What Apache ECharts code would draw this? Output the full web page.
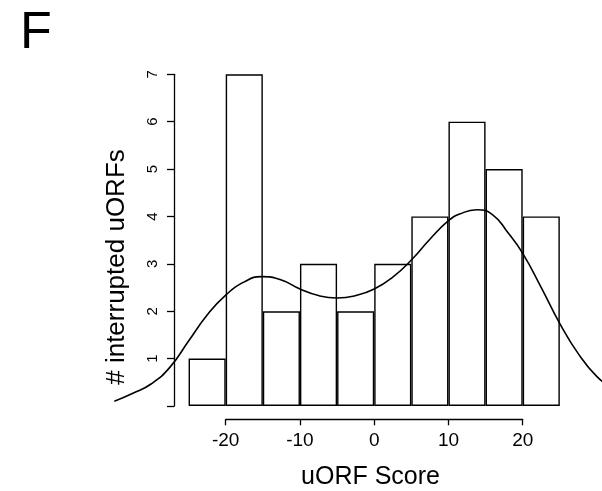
<!DOCTYPE html>
<html>
<head>
<meta charset="utf-8">
<script src="https://cdn.jsdelivr.net/npm/echarts@6/dist/echarts.min.js"></script>
<style>
  html, body { margin: 0; padding: 0; background: #fff; }
  #chart { width: 602px; height: 491px; }
</style>
</head>
<body>
<div id="chart"></div>
<script>
// histogram bins (width 5) and counts
var binCenters = [-22.5, -17.5, -12.5, -7.5, -2.5, 2.5, 7.5, 12.5, 17.5, 22.5];
var binCounts = [1, 7, 2, 3, 2, 3, 4, 6, 5, 4];

// density curve, scaled to counts
var curveX = [-35, -32.5, -30, -27.5, -25, -22.5, -20, -17.5, -15.2, -12.5, -10, -7.5, -5, -2.5, 0, 2.5, 5, 7.5, 10, 11.5, 13.8, 16, 18, 20, 22.5, 25, 27.5, 30, 32.5];
var curveY = [0.10, 0.27, 0.47, 0.82, 1.37, 1.92, 2.34, 2.62, 2.73, 2.66, 2.47, 2.33, 2.28, 2.33, 2.47, 2.72, 3.08, 3.52, 3.91, 4.05, 4.14, 4.03, 3.66, 3.22, 2.50, 1.74, 1.10, 0.62, 0.32];

var xTicks = [-20, -10, 0, 10, 20];
var yTicks = [0, 1, 2, 3, 4, 5, 6, 7];

var myChart = echarts.init(document.getElementById('chart'));
var font = 'Liberation Sans, Arial, Helvetica, sans-serif';

var bars = binCenters.map(function (c, i) { return [c, binCounts[i]]; });
var curve = curveX.map(function (x, i) { return [x, curveY[i]]; });

var option = {
  animation: false,
  backgroundColor: '#fff',
  grid: [
    // plotting area
    { left: 100, right: 0, top: 74.3, bottom: 85 },
    // detached x axis (-20..20)
    { left: 225.7, right: 79.3, top: 400, bottom: 71.7 },
    // detached y axis (0..7)
    { left: 174, width: 1, top: 74.3, bottom: 85 }
  ],
  xAxis: [
    { gridIndex: 0, type: 'value', min: -36.93, max: 30.68, show: false },
    {
      gridIndex: 1, type: 'value', min: xTicks[0], max: xTicks[xTicks.length - 1], interval: 10,
      axisLine: { show: true, lineStyle: { color: '#000', width: 1.3 } },
      axisTick: { show: true, length: 6, lineStyle: { color: '#000', width: 1.3 } },
      axisLabel: { color: '#000', fontSize: 19, fontFamily: font, margin: 12 },
      splitLine: { show: false }
    },
    { gridIndex: 2, type: 'value', show: false }
  ],
  yAxis: [
    { gridIndex: 0, type: 'value', min: 0, max: 7, show: false },
    { gridIndex: 1, type: 'value', show: false },
    {
      gridIndex: 2, type: 'value', min: yTicks[0], max: yTicks[yTicks.length - 1], interval: 1,
      axisLine: { show: true, lineStyle: { color: '#000', width: 1.3 } },
      axisTick: { show: true, length: 7, lineStyle: { color: '#000', width: 1.3 } },
      axisLabel: {
        color: '#000', fontSize: 15, fontFamily: font, rotate: 90, margin: 14,
        formatter: function (v) { return v === 0 ? '' : v; }
      },
      splitLine: { show: false }
    }
  ],
  graphic: [
    {
      type: 'text', left: 20, top: 8,
      style: { text: 'F', font: '52px ' + font, fill: '#000' }
    },
    {
      type: 'text', x: 370.5, y: 477,
      style: { text: 'uORF Score', font: '25px ' + font, fill: '#000', align: 'center', verticalAlign: 'middle' }
    },
    {
      type: 'text', x: 117, y: 267, rotation: Math.PI / 2,
      style: { text: '# interrupted uORFs', font: '26px ' + font, fill: '#000', align: 'center', verticalAlign: 'middle' }
    }
  ],
  series: [
    {
      type: 'bar',
      xAxisIndex: 0, yAxisIndex: 0,
      data: bars,
      barWidth: 37.1,
      itemStyle: { color: '#fff', borderColor: '#000', borderWidth: 1.4 },
      silent: true
    },
    {
      type: 'line',
      xAxisIndex: 0, yAxisIndex: 0,
      data: curve,
      smooth: 0.5,
      showSymbol: false,
      lineStyle: { color: '#000', width: 1.6 },
      silent: true
    }
  ]
};
option && myChart.setOption(option);
</script>
</body>
</html>
